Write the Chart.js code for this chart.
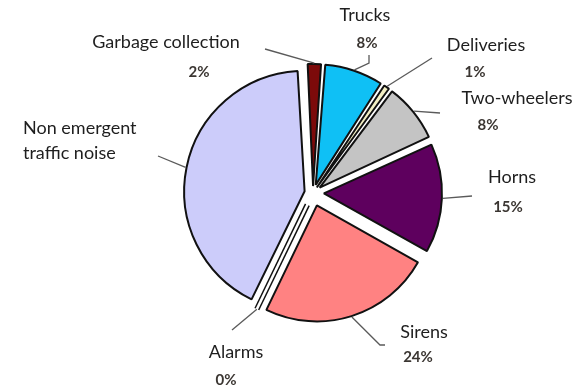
<!DOCTYPE html>
<html>
<head>
<meta charset="utf-8">
<script src="https://cdn.jsdelivr.net/npm/chart.js@4/dist/chart.umd.min.js"></script>
<style>
  html, body { margin: 0; padding: 0; background: #fff; }
  #wrap { width: 577px; height: 388px; position: relative; }
</style>
</head>
<body>
<div id="wrap"><canvas id="noisePie"></canvas></div>
<script>
// noise sources, clockwise from 12 o'clock
const sources = ["Garbage collection", "Trucks", "Deliveries", "Two-wheelers", "Horns", "Sirens", "Alarms", ["Non emergent", "traffic noise"]];
const shares = [2, 8, 1, 8, 15, 24, 0, 42];
const showShare = [true, true, true, true, true, true, true, false];
const sliceColors = ["#7c0a0a", "#0fc0f5", "#f3efc4", "#c4c4c4", "#5e005e", "#ff8282", "#ffffff", "#ccccfa"];

const EXPLODE = 13; // px every slice is pulled out from the centre

// text placement and leader bends for each source (same order as above)
const callouts = [
  { at: [166, 42], pct: [199, 72], bends: [[265, 49]] },
  { at: [365, 15], pct: [367, 43], bends: [[369, 63], [369, 55]] },
  { at: [486, 45], pct: [475, 72], bends: [[432, 58]] },
  { at: [517, 98], pct: [488, 125], bends: [[440, 113]] },
  { at: [512, 177], pct: [508, 207], bends: [[472, 196]] },
  { at: [424, 332], pct: [418, 357], bends: [[380, 345], [385, 345]] },
  { at: [236, 352], pct: [226, 380], bends: [[232, 330]] },
  { at: [23, 128], align: "left", bends: [[158, 156]] }
];

const total = shares.reduce((a, b) => a + b, 0);

// chart.js shrinks the offset depending on the slice angle, undo that so all slices move the same
function sliceOffset(ctx) {
  const circ = shares[ctx.dataIndex] / total * Math.PI * 2;
  const fix = 1 - Math.sin(Math.min(Math.PI, circ));
  return 4 * EXPLODE / (1 + fix);
}

const callout = {
  id: "callout",
  afterDatasetsDraw(chart) {
    const ctx = chart.ctx;
    const arcs = chart.getDatasetMeta(0).data;
    ctx.save();

    arcs.forEach((arc, i) => {
      const p = arc.getProps(["x", "y", "startAngle", "endAngle", "outerRadius"], true);
      const mid = (p.startAngle + p.endAngle) / 2;
      const cx = p.x + Math.cos(mid) * EXPLODE;
      const cy = p.y + Math.sin(mid) * EXPLODE;

      // empty slice: just a thin hollow spoke
      if (shares[i] === 0) {
        const nx = -Math.sin(mid), ny = Math.cos(mid);
        const ex = Math.cos(mid) * p.outerRadius, ey = Math.sin(mid) * p.outerRadius;
        ctx.fillStyle = "#fff";
        ctx.beginPath();
        ctx.moveTo(cx + nx * 2.5, cy + ny * 2.5);
        ctx.lineTo(cx + ex + nx * 2.5, cy + ey + ny * 2.5);
        ctx.lineTo(cx + ex - nx * 2.5, cy + ey - ny * 2.5);
        ctx.lineTo(cx - nx * 2.5, cy - ny * 2.5);
        ctx.closePath();
        ctx.fill();
        ctx.strokeStyle = "#111";
        ctx.lineWidth = 1.5;
        [1, -1].forEach(s => {
          ctx.beginPath();
          ctx.moveTo(cx + nx * 2 * s, cy + ny * 2 * s);
          ctx.lineTo(cx + ex + nx * 2 * s, cy + ey + ny * 2 * s);
          ctx.stroke();
        });
      }

      const r = p.outerRadius + (shares[i] === 0 ? 0 : 1);
      const c = callouts[i];
      ctx.strokeStyle = "#5a5a5a";
      ctx.lineWidth = 1.3;
      ctx.beginPath();
      ctx.moveTo(cx + Math.cos(mid) * r, cy + Math.sin(mid) * r);
      c.bends.forEach(b => ctx.lineTo(b[0], b[1]));
      ctx.stroke();

      const lines = [].concat(chart.data.labels[i]);
      ctx.fillStyle = "#1e1e1e";
      ctx.font = "18px Lato";
      ctx.textAlign = c.align || "center";
      ctx.textBaseline = "middle";
      lines.forEach((t, k) => ctx.fillText(t, c.at[0], c.at[1] + k * 25));

      if (showShare[i]) {
        ctx.fillStyle = "#3b3632";
        ctx.font = "bold 15px Lato";
        ctx.textAlign = "center";
        ctx.fillText(shares[i] + "%", c.pct[0], c.pct[1]);
      }
    });
    ctx.restore();
  }
};

new Chart(document.getElementById("noisePie").getContext("2d"), {
  type: "pie",
  data: {
    labels: sources,
    datasets: [
      {
        data: shares,
        backgroundColor: sliceColors,
        borderColor: "#111",
        borderWidth: 2,
        offset: sliceOffset,
        hoverOffset: 0,
        radius: 116,
        rotation: -3,
      },
    ],
  },
  options: {
    responsive: true,
    maintainAspectRatio: false,
    animation: false,
    layout: {
      padding: { left: 60, right: 11, top: 20, bottom: 22 },
    },
    plugins: {
      legend: { display: false },
      tooltip: { enabled: false },
    },
  },
  plugins: [callout],
});
</script>
</body>
</html>
